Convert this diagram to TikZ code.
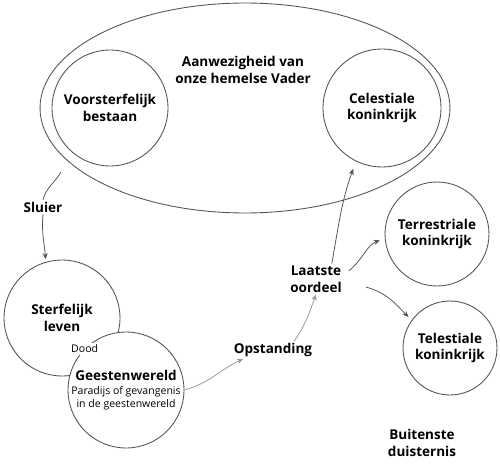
\documentclass[tikz,border=0pt]{standalone}
\usepackage{fontspec}
\setmainfont{Open Sans}
\usepackage{xcolor}
\definecolor{linecolor}{HTML}{555555}
\definecolor{softcolor}{HTML}{999999}
\usepackage{tikz}
\usetikzlibrary{arrows.meta, positioning, calc}
\newcommand{\subtxt}[1]{{\mdseries\fontsize{6}{7.5}\selectfont #1}}

\begin{document}
\begin{tikzpicture}[x=0.02cm, y=0.02cm,
    realm/.style={circle, draw=linecolor, line width=0.5pt, fill=white, align=center, inner sep=0pt, font=\bfseries\fontsize{7.7}{9.6}\selectfont},
    tag/.style={align=center, inner sep=1pt, font=\bfseries\fontsize{7.7}{9.6}\selectfont},
    flow/.style={-{Stealth[length=3.5pt, width=3pt]}, draw=linecolor, line width=0.45pt},
    softflow/.style={flow, draw=softcolor}]
  \useasboundingbox (0,0) rectangle (500,467);
  % presence of the Father
  \draw[linecolor, line width=0.5pt] (245,359) ellipse [x radius=4.1cm, y radius=2.1cm];
  \node[tag] (vader) at (243,397) {Aanwezigheid van\\onze hemelse Vader};
  \node[realm, minimum size=2.32cm] (voor) at (110,359) {Voorsterfelijk\\bestaan};
  \node[realm, minimum size=2.36cm] (cel) at (382,359) {Celestiale\\koninkrijk};
  % earth life and spirit world
  \node[realm, minimum size=2.32cm] (sterf) at (62,149) {Sterfelijk\\leven};
  \node[realm, minimum size=2.32cm, inner sep=-6pt] (geest) at (126,77) {Geestenwereld\\[-1.5pt]\subtxt{Paradijs of gevangenis}\\[-2pt]\subtxt{in de geestenwereld}};
  \node[fill=white, inner sep=1pt, font=\fontsize{6}{7.5}\selectfont] (dood) at (geest.135) {Dood};
  % kingdoms
  \node[realm, minimum size=2.08cm] (terr) at (437,233) {Terrestriale\\koninkrijk};
  \node[realm, minimum size=1.88cm] (tele) at (450,119) {Telestiale\\koninkrijk};
  \node[tag] (buiten) at (422,24) {Buitenste\\duisternis};
  % steps
  \node[tag] (sluier) at (43,260) {Sluier};
  \node[tag] (opst) at (273,117) {Opstanding};
  \node[tag] (oordeel) at (316,188) {Laatste\\oordeel};
  \coordinate (sluierstart) at (61,295);
  \draw[linecolor, line width=0.45pt] (sluierstart) to[out=240, in=75] (sluier.north);
  \draw[flow, shorten >=1.5pt] (sluier.south) to[out=265, in=95] (sterf.106);
  \draw[softflow] (geest.east) to[out=15, in=205] ([xshift=-17]opst.south);
  \draw[softflow] ([xshift=12]opst.north) to[out=55, in=250] (oordeel.south);
  \draw[flow, shorten >=4.5pt] ([xshift=9]oordeel.north) to[out=80, in=250] (cel.244);
  \draw[flow, shorten >=3pt] ([shift={(5,8)}]oordeel.east) to[out=40, in=200] (terr.185);
  \draw[flow, shorten >=2.5pt] ([shift={(22,-8)}]oordeel.east) to[out=-15, in=135] (tele.144);
\end{tikzpicture}
\end{document}
